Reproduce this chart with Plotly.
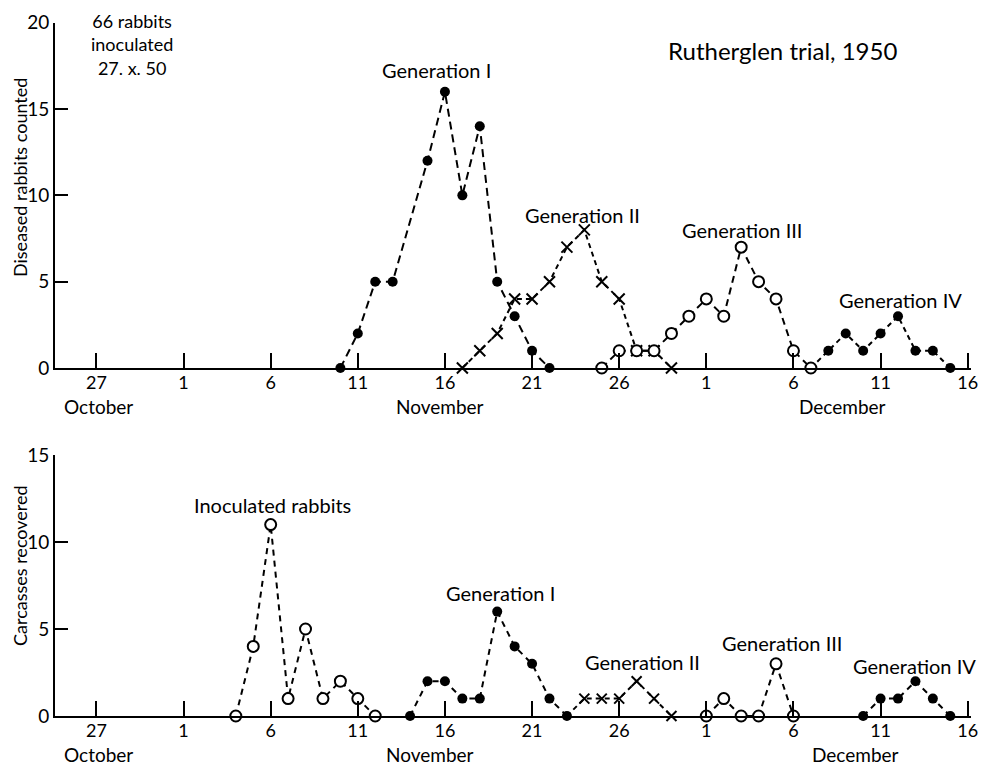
import plotly.graph_objects as go

# ---------------- data ----------------
# Top panel: diseased rabbits counted
gen1_top_dates = ["1950-11-10", "1950-11-11", "1950-11-12", "1950-11-13", "1950-11-15", "1950-11-16",
                  "1950-11-17", "1950-11-18", "1950-11-19", "1950-11-20", "1950-11-21", "1950-11-22"]
gen1_top_vals = [0, 2, 5, 5, 12, 16, 10, 14, 5, 3, 1, 0]

gen2_top_dates = ["1950-11-17", "1950-11-18", "1950-11-19", "1950-11-20", "1950-11-21", "1950-11-22",
                  "1950-11-23", "1950-11-24", "1950-11-25", "1950-11-26", "1950-11-27", "1950-11-28",
                  "1950-11-29"]
gen2_top_vals = [0, 1, 2, 4, 4, 5, 7, 8, 5, 4, 1, 1, 0]

gen3_top_dates = ["1950-11-25", "1950-11-26", "1950-11-27", "1950-11-28", "1950-11-29", "1950-11-30",
                  "1950-12-01", "1950-12-02", "1950-12-03", "1950-12-04", "1950-12-05", "1950-12-06",
                  "1950-12-07"]
gen3_top_vals = [0, 1, 1, 1, 2, 3, 4, 3, 7, 5, 4, 1, 0]

gen4_top_dates = ["1950-12-07", "1950-12-08", "1950-12-09", "1950-12-10", "1950-12-11", "1950-12-12",
                  "1950-12-13", "1950-12-14", "1950-12-15"]
gen4_top_vals = [0, 1, 2, 1, 2, 3, 1, 1, 0]

# Bottom panel: carcasses recovered
inoc_dates = ["1950-11-04", "1950-11-05", "1950-11-06", "1950-11-07", "1950-11-08", "1950-11-09",
              "1950-11-10", "1950-11-11", "1950-11-12"]
inoc_vals = [0, 4, 11, 1, 5, 1, 2, 1, 0]

gen1_bot_dates = ["1950-11-14", "1950-11-15", "1950-11-16", "1950-11-17", "1950-11-18", "1950-11-19",
                  "1950-11-20", "1950-11-21", "1950-11-22", "1950-11-23"]
gen1_bot_vals = [0, 2, 2, 1, 1, 6, 4, 3, 1, 0]

gen2_bot_dates = ["1950-11-23", "1950-11-24", "1950-11-25", "1950-11-26", "1950-11-27", "1950-11-28",
                  "1950-11-29"]
gen2_bot_vals = [0, 1, 1, 1, 2, 1, 0]

gen3_bot_dates = ["1950-12-01", "1950-12-02", "1950-12-03", "1950-12-04", "1950-12-05", "1950-12-06"]
gen3_bot_vals = [0, 1, 0, 0, 3, 0]

gen4_bot_dates = ["1950-12-10", "1950-12-11", "1950-12-12", "1950-12-13", "1950-12-14", "1950-12-15"]
gen4_bot_vals = [0, 1, 1, 2, 1, 0]

tick_dates = ["1950-10-27", "1950-11-01", "1950-11-06", "1950-11-11", "1950-11-16", "1950-11-21",
              "1950-11-26", "1950-12-01", "1950-12-06", "1950-12-11", "1950-12-16"]
tick_labels = ["27", "1", "6", "11", "16", "21", "26", "1", "6", "11", "16"]
month_labels = ["October", "November", "December"]

# ---------------- figure ----------------
# the page body has an 8px margin, so the figure is offset by 8px
OFF = 8
W, H = 987 - OFF, 766 - OFF
FONT = "Lato"


def px(x):
    return (x - OFF) / W


def py(y):
    return 1 - (y - OFF) / H


fig = go.Figure()


def filled(xs, ys, xaxis, yaxis, dash, sizes=None):
    return go.Scatter(x=xs, y=ys, xaxis=xaxis, yaxis=yaxis, mode="lines+markers",
                      line=dict(color="black", width=2, dash=dash),
                      marker=dict(symbol="circle", size=sizes if sizes else 10, color="black",
                                  opacity=1, line=dict(width=0)),
                      cliponaxis=False, showlegend=False, hoverinfo="x+y")


def opened(xs, ys, xaxis, yaxis, dash):
    return go.Scatter(x=xs, y=ys, xaxis=xaxis, yaxis=yaxis, mode="lines+markers",
                      line=dict(color="black", width=2, dash=dash),
                      marker=dict(symbol="circle", size=11, color="white", opacity=1,
                                  line=dict(width=2, color="black")),
                      cliponaxis=False, showlegend=False, hoverinfo="x+y")


def crossed(xs, ys, xaxis, yaxis, dash, size, sizes=None):
    return go.Scatter(x=xs, y=ys, xaxis=xaxis, yaxis=yaxis, mode="lines+markers",
                      line=dict(color="black", width=2, dash=dash),
                      marker=dict(symbol="x-thin", size=sizes if sizes else size, color="black",
                                  opacity=1, line=dict(width=2, color="black")),
                      cliponaxis=False, showlegend=False, hoverinfo="x+y")


# top panel (x, y)
fig.add_trace(filled(gen1_top_dates, gen1_top_vals, "x", "y", "8px,5px"))
fig.add_trace(crossed(gen2_top_dates, gen2_top_vals, "x", "y", "5px,4px", 11))
fig.add_trace(filled(gen4_top_dates, gen4_top_vals, "x", "y", "5px,4px",
                     sizes=[0] + [10] * (len(gen4_top_dates) - 1)))
fig.add_trace(opened(gen3_top_dates, gen3_top_vals, "x", "y", "7px,5px"))

# bottom panel (x2, y2)
fig.add_trace(opened(inoc_dates, inoc_vals, "x2", "y2", "6px,5px"))
fig.add_trace(crossed(gen2_bot_dates, gen2_bot_vals, "x2", "y2", "5px,4px", 10,
                      sizes=[0] + [10] * (len(gen2_bot_dates) - 1)))
fig.add_trace(filled(gen1_bot_dates, gen1_bot_vals, "x2", "y2", "6px,5px"))
fig.add_trace(opened(gen3_bot_dates, gen3_bot_vals, "x2", "y2", "6px,5px"))
fig.add_trace(filled(gen4_bot_dates, gen4_bot_vals, "x2", "y2", "6px,5px"))

xrange = ["1950-10-24 14:58", "1950-12-16 04:48"]
xdomain = [px(55), px(971.2)]

xaxis_common = dict(type="date", range=xrange, domain=xdomain, showgrid=False, zeroline=False,
                    showline=True, linecolor="black", linewidth=2, automargin=False,
                    ticks="inside", ticklen=15, tickwidth=2, tickcolor="black",
                    ticklabelstandoff=-3,
                    tickmode="array", tickvals=tick_dates, ticktext=tick_labels,
                    tickfont=dict(family=FONT, size=18, color="black"), fixedrange=True)
yaxis_common = dict(showgrid=False, zeroline=False, showline=True, linecolor="black", linewidth=2,
                    ticks="inside", ticklen=13, tickwidth=2, tickcolor="black", automargin=False,
                    tickfont=dict(family=FONT, size=19, color="black"), fixedrange=True,
                    tickmode="array")

fig.update_layout(
    width=W, height=H, margin=dict(l=0, r=0, t=0, b=0),
    paper_bgcolor="white", plot_bgcolor="white",
    xaxis=dict(**xaxis_common, anchor="y"),
    xaxis2=dict(**xaxis_common, anchor="y2"),
    yaxis=dict(**yaxis_common, range=[0, 20], domain=[py(368), py(22.7)], anchor="x",
               tickvals=[0, 5, 10, 15, 20]),
    yaxis2=dict(**yaxis_common, range=[0, 15], domain=[py(716), py(455)], anchor="x2",
                tickvals=[0, 5, 10, 15]),
    font=dict(family=FONT, color="black"),
)


def note(text, x, y, size=20, angle=0, yanchor="middle"):
    fig.add_annotation(text=text, x=px(x), y=py(y), xref="paper", yref="paper",
                       showarrow=False, xanchor="center", yanchor=yanchor,
                       font=dict(family=FONT, size=size, color="black"), textangle=angle)


note("66 rabbits<br>inoculated<br>27. x. 50", 132, 8, size=18, yanchor="top")
note("Rutherglen trial, 1950", 782, 50, size=24)
note("Generation I", 436, 70)
note("Generation II", 582, 215)
note("Generation III", 742, 230)
note("Generation IV", 900, 300)
note("Inoculated rabbits", 272, 505)
note("Generation I", 500, 593)
note("Generation II", 642, 662)
note("Generation III", 782, 643)
note("Generation IV", 914, 666)

note(month_labels[0], 98, 406, size=19)
note(month_labels[1], 440, 406, size=19)
note(month_labels[2], 842, 406, size=19)
note(month_labels[0], 98, 754, size=19)
note(month_labels[1], 430, 754, size=19)
note(month_labels[2], 855, 754, size=19)

note("Diseased rabbits counted", 20, 178, size=18, angle=-90)
note("Carcasses recovered", 20, 566, size=18, angle=-90)

fig.write_html("out.html")
